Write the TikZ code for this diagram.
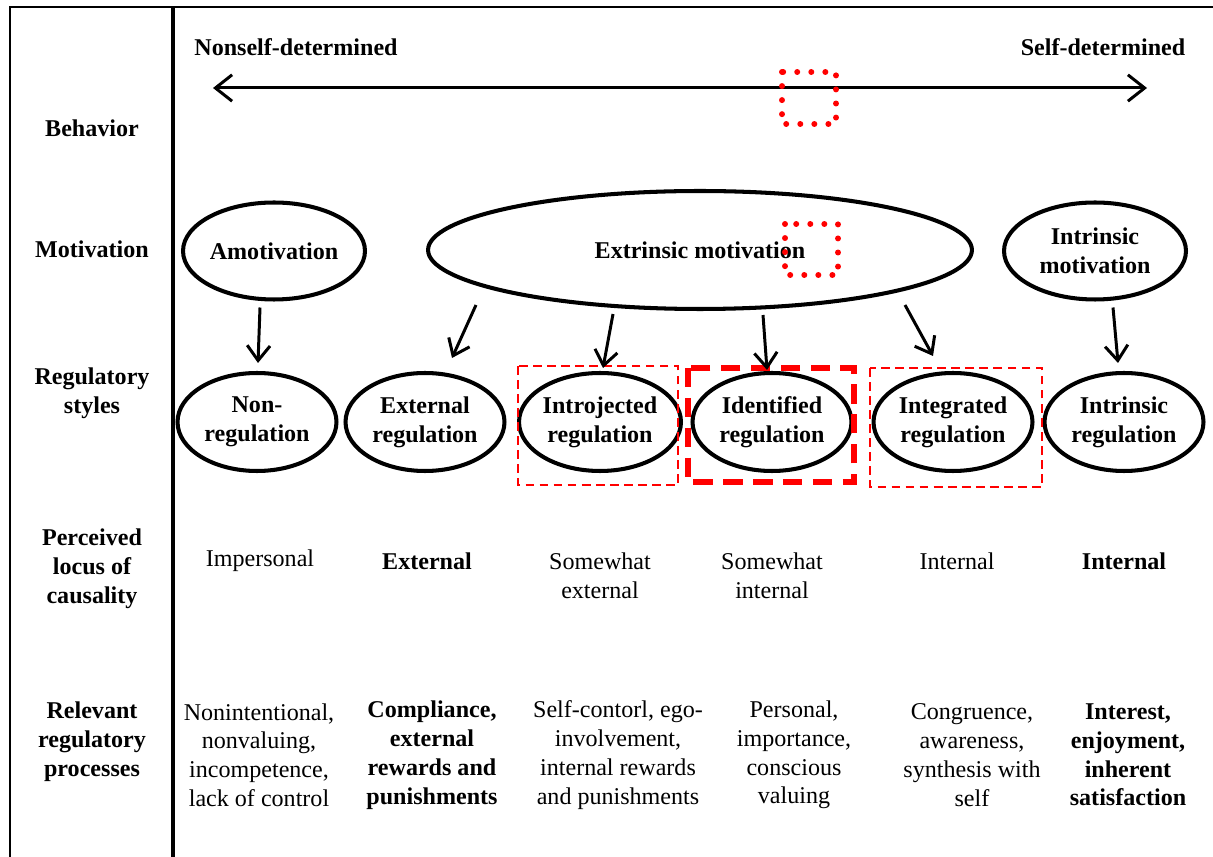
\documentclass[tikz,border=0pt]{standalone}
\usepackage{fontspec}
\setmainfont{Liberation Serif}
\usepackage{tikz}
\usetikzlibrary{shapes, arrows.meta, positioning, calc}
\tikzstyle{motiv} = [ellipse, draw, line width=2.3pt, font=\bfseries, align=center,
    inner sep=0pt, minimum width=3.64cm, minimum height=1.94cm]
\tikzstyle{regul} = [ellipse, draw, line width=2.3pt, font=\bfseries, align=center,
    inner sep=0pt, minimum width=3.18cm, minimum height=1.96cm]
\tikzstyle{rowlabel} = [font=\bfseries, align=center]
\tikzstyle{cell} = [align=center]
\tikzstyle{line} = [draw, line width=1.7pt, -{Straight Barb[length=8.5pt, width=13pt]}]
\tikzstyle{thindash} = [draw=red, line width=1.4pt, dash pattern=on 5pt off 3pt]
\tikzstyle{thickdash} = [draw=red, line width=3.4pt, dash pattern=on 11pt off 6pt]
\tikzstyle{dotbox} = [draw=red, line width=3.4pt, line cap=round, dash pattern=on 0pt off 8pt]

\begin{document}
\fontsize{13.7}{16.4}\selectfont
\begin{tikzpicture}[x=0.02cm, y=-0.02cm]
		\useasboundingbox (0,0) rectangle (1213,857);
		% frame
		\draw[line width=1.2pt] (10,857) -- (10,7) -- (1213,7);
		\draw[line width=2pt] (173,7) -- (173,857);
		
		% row labels
		\node [rowlabel] (behav) at (92,128) {Behavior};
		\node [rowlabel] (motiv) at (92,249) {Motivation};
		\node [rowlabel] (regst) at (92,393) {Regulatory\\styles};
		\node [rowlabel] (locus) at (92,569) {Perceived\\locus of\\causality};
		\node [rowlabel] (relev) at (92,742) {Relevant\\regulatory\\processes};
		
		% continuum
		\node [rowlabel] (nonself) at (296,47) {Nonself-determined};
		\node [rowlabel] (self) at (1103,47) {Self-determined};
		\coordinate (leftend) at (213,88);
		\coordinate (rightend) at (1147,88);
		\draw[line width=1.7pt, {Straight Barb[length=9.5pt, width=15pt]}-{Straight Barb[length=9.5pt, width=15pt]}] (leftend) -- (rightend);
		\draw[dotbox] (782,72) rectangle (836,124);
		
		% motivation
		\node [motiv] (amot) at (274,251) {Amotivation};
		\node [motiv, minimum width=10.88cm, minimum height=2.36cm] (extr) at (700,250) {Extrinsic motivation};
		\node [motiv] (intr) at (1095,251) {Intrinsic\\motivation};
		\draw[dotbox] (785,224) rectangle (838,275);
		
		% regulatory styles
		\node [regul] (nonreg) at (257,422) {Non-\\regulation};
		\node [regul] (extreg) at (425,422) {External\\regulation};
		\node [regul] (introreg) at (600,422) {Introjected\\regulation};
		\node [regul] (identreg) at (772,422) {Identified\\regulation};
		\node [regul] (integreg) at (953,422) {Integrated\\regulation};
		\node [regul] (intrreg) at (1124,422) {Intrinsic\\regulation};
		
		\draw[thindash] (518,366) rectangle (678,485);
		\draw[thickdash] (688,368) rectangle (854,482);
		\draw[thindash] (870,368) rectangle (1042,487);
		
		\path[line] ($(amot.south)+(-14,6)$) -- ($(nonreg.north)+(1,-8)$);
		\path[line] ($(extr.center)+(-224,55)$) -- ($(extreg.north)+(27,-13)$);
		\path[line] ($(extr.south)+(-87,3)$) -- ($(introreg.north)+(3,-3)$);
		\path[line] ($(extr.south)+(63,4)$) -- ($(identreg.north)+(-5,-1)$);
		\path[line] ($(extr.center)+(205,55)$) -- ($(integreg.north)+(-20,-15)$);
		\path[line] ($(intr.south)+(18,6)$) -- ($(intrreg.north)+(-6,-8)$);
		
		% perceived locus
		\node [cell] (imper) at (260,561) {Impersonal};
		\node [cell, font=\bfseries] (extern) at (427,561) {External};
		\node [cell] (swext) at (600,576) {Somewhat\\external};
		\node [cell] (swint) at (772,576) {Somewhat\\internal};
		\node [cell] (intern) at (957,561) {Internal};
		\node [cell, font=\bfseries] (internb) at (1124,561) {Internal};
		
		% relevant processes
		\node [cell] (nonint) at (259,755) {Nonintentional,\\nonvaluing,\\incompetence,\\lack of control};
		\node [cell, font=\bfseries] (compl) at (432,755) {Compliance,\\external\\rewards and\\punishments};
		\node [cell] (selfc) at (618,755) {Self-contorl, ego-\\involvement,\\internal rewards\\and punishments};
		\node [cell] (pers) at (794,755) {Personal,\\importance,\\conscious\\valuing};
		\node [cell] (congr) at (972,755) {Congruence,\\awareness,\\synthesis with\\self};
		\node [cell, font=\bfseries] (inter) at (1128,755) {Interest,\\enjoyment,\\inherent\\satisfaction};
	\end{tikzpicture}
\end{document}
